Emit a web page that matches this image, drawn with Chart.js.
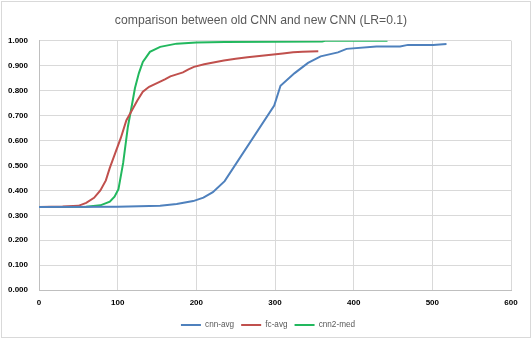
<!DOCTYPE html>
<html>
<head>
<meta charset="UTF-8">
<script src="https://cdn.jsdelivr.net/npm/chart.js"></script>
<style>
  body { margin: 0; background: #fff; }
  #wrap { width: 532px; height: 340px; position: relative; }
</style>
</head>
<body>
<div id="wrap"><canvas id="chart" width="532" height="340"></canvas></div>
<script>
// cnn-avg
const cnnAvgX = [0, 100, 154, 175, 196, 209, 221, 236, 299, 307, 325, 342, 358, 380, 391, 429, 459, 469, 501, 518];
const cnnAvgY = [0.333, 0.334, 0.338, 0.345, 0.357, 0.371, 0.393, 0.437, 0.740, 0.819, 0.870, 0.911, 0.937, 0.953, 0.967, 0.977, 0.977, 0.983, 0.983, 0.987];

// fc-avg
const fcAvgX = [0, 30, 50, 60, 70, 78, 85, 90, 97, 104, 111, 118, 125, 132, 140, 150, 160, 167, 175, 183, 190, 197, 210, 220, 235, 250, 265, 280, 298, 310, 323, 335, 355];
const fcAvgY = [0.333, 0.335, 0.338, 0.350, 0.370, 0.400, 0.440, 0.490, 0.550, 0.610, 0.680, 0.720, 0.760, 0.795, 0.815, 0.830, 0.845, 0.857, 0.865, 0.873, 0.885, 0.895, 0.905, 0.911, 0.920, 0.927, 0.933, 0.938, 0.944, 0.948, 0.953, 0.955, 0.957];

// cnn2-med
const cnn2MedX = [0, 60, 78, 90, 96, 101, 107, 113, 118, 122, 127, 132, 141, 154, 175, 185, 200, 236, 360, 365, 443];
const cnn2MedY = [0.333, 0.334, 0.340, 0.355, 0.375, 0.405, 0.510, 0.655, 0.740, 0.810, 0.870, 0.915, 0.955, 0.975, 0.988, 0.990, 0.993, 0.995, 0.997, 1.000, 1.000];

const seriesNames = ["cnn-avg", "fc-avg", "cnn2-med"];
const xTicks = [0, 100, 200, 300, 400, 500, 600];

function pts(xs, ys) {
  return xs.map((x, i) => ({ x: x, y: ys[i] }));
}

// chart area frame + nudge title/legend a bit right like the original
const frame = {
  id: "frame",
  afterLayout(chart) {
    chart.titleBlock.left += 11;
    chart.legend.left += 25;
  },
  afterDraw(chart) {
    const c = chart.ctx;
    c.save();
    c.strokeStyle = "#d9d9d9";
    c.lineWidth = 1;
    c.strokeRect(1.5, 1.5, 529, 336);
    c.restore();
  }
};

const font = "'Liberation Sans', Arial, sans-serif";

new Chart(document.getElementById("chart"), {
  type: "scatter",
  data: {
    datasets: [
      { label: seriesNames[0], data: pts(cnnAvgX, cnnAvgY), borderColor: "#4f81bd", backgroundColor: "#4f81bd" },
      { label: seriesNames[1], data: pts(fcAvgX, fcAvgY), borderColor: "#c0504d", backgroundColor: "#c0504d" },
      { label: seriesNames[2], data: pts(cnn2MedX, cnn2MedY), borderColor: "#22b85e", backgroundColor: "#22b85e" }
    ].map(d => Object.assign(d, { showLine: true, pointRadius: 0, borderWidth: 2, tension: 0 }))
  },
  options: {
    responsive: false,
    animation: false,
    layout: { padding: { left: 0, right: 21, top: 0, bottom: 1 } },
    plugins: {
      title: {
        display: true,
        text: "comparison between old CNN and new CNN (LR=0.1)",
        color: "#595959",
        font: { family: font, size: 12.2, weight: "normal" },
        padding: { top: 13, bottom: 13 }
      },
      legend: {
        position: "bottom",
        labels: {
          boxWidth: 20,
          boxHeight: 2,
          padding: 7,
          color: "#595959",
          font: { family: font, size: 8.2 },
          generateLabels: chart => Chart.defaults.plugins.legend.labels.generateLabels(chart)
            .map(item => Object.assign(item, { lineWidth: 0 }))
        }
      },
      tooltip: { enabled: false }
    },
    scales: {
      x: {
        type: "linear",
        min: 0,
        max: 600,
        afterBuildTicks: s => { s.ticks = xTicks.map(v => ({ value: v })); },
        afterFit: s => { s.height = 23.6; },
        grid: { color: "#d9d9d9", lineWidth: 1, drawTicks: false },
        border: { color: "#bfbfbf" },
        ticks: { color: "#000", padding: 8, font: { family: font, size: 8, weight: "bold" } }
      },
      y: {
        min: 0,
        max: 1,
        afterFit: s => { s.width = 39; },
        grid: { color: "#d9d9d9", lineWidth: 1, drawTicks: false },
        border: { color: "#bfbfbf" },
        ticks: {
          stepSize: 0.1,
          color: "#000",
          padding: 11,
          font: { family: font, size: 8, weight: "bold" },
          callback: v => v.toFixed(3)
        }
      }
    }
  },
  plugins: [frame]
});
</script>
</body>
</html>
